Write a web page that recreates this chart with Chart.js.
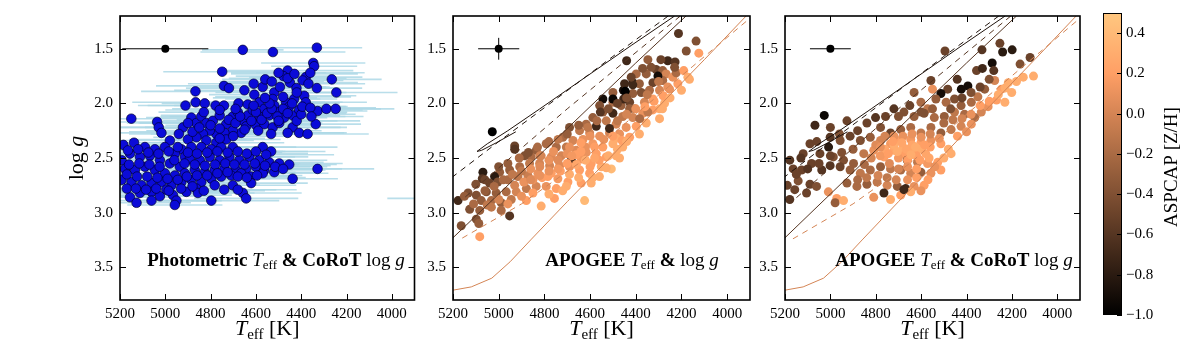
<!DOCTYPE html>
<html>
<head>
<meta charset="utf-8">
<script src="https://cdn.jsdelivr.net/npm/chart.js@4.4.1/dist/chart.umd.min.js"></script>
<style>
  html, body { margin: 0; padding: 0; background: #fff; }
  #wrap { position: relative; width: 1200px; height: 351px; overflow: hidden; }
  canvas { position: absolute; top: 0; }
</style>
</head>
<body>
<div id="wrap">
  <canvas id="p1" width="420" height="351" style="left:0"></canvas>
  <canvas id="p2" width="340" height="351" style="left:420px"></canvas>
  <canvas id="p3" width="330" height="351" style="left:760px"></canvas>
  <canvas id="cb" width="110" height="351" style="left:1090px"></canvas>
</div>
<script>
// axis ranges and ticks
const teffRange = [3900, 5200]
const loggRange = [1.2, 3.8]
const zRange = [-1.0, 0.5]
const teffTicks = [5200, 5000, 4800, 4600, 4400, 4200, 4000]
const loggTicks = [1.5, 2.0, 2.5, 3.0, 3.5]
const zTicks = [-1.0, -0.8, -0.6, -0.4, -0.2, 0.0, 0.2, 0.4]

// typical error bars (Teff K, logg dex) at (5000, 1.5)
const refPoint = [5000, 1.5]
const refErrPhot = [190, 0]
const refErrApogee = [90, 0.1]
const refErrCorot = [90, 0]

// photometric Teff & CoRoT logg: [Teff, logg, Teff error]
const photStars = [
  [4658,1.51,180],[4525,1.53,320],[4331,1.49,200],[4347,1.63,230],[4343,1.66,190],[4749,1.71,260],
  [4460,1.70,290],[4479,1.75,210],[4380,1.76,250],[4394,1.79,180],[4265,1.78,220],[4741,1.84,300],
  [4719,1.86,190],[4867,1.89,240],[4651,1.88,310],[4607,1.92,200],[4570,1.85,280],[4559,1.78,190],
  [4519,1.90,260],[4494,1.85,220],[4450,1.81,300],[4421,1.86,180],[4368,1.82,250],[4331,1.86,200],
  [4245,1.90,270],[4387,1.93,230],[4911,2.02,210],[4866,1.99,280],[4826,2.00,190],[4778,2.02,300],
  [4741,2.02,220],[4677,2.00,260],[4636,2.01,180],[4585,1.99,290],[4526,1.96,210],[4467,1.99,250],
  [4431,1.96,190],[4380,1.99,270],[4328,2.07,220],[4289,2.05,300],[4248,2.05,200],[5150,2.14,240],
  [5036,2.17,190],[5029,2.22,260],[5017,2.27,210],[4922,2.22,280],[4885,2.13,200],[4863,2.18,250],
  [4841,2.12,180],[4819,2.18,300],[4790,2.16,220],[4760,2.11,260],[4731,2.19,190],[4702,2.12,280],
  [4680,2.08,210],[4658,2.16,250],[4636,2.11,200],[4614,2.06,290],[4585,2.12,230],[4563,2.05,180],
  [4541,2.11,270],[4519,2.02,220],[4497,2.08,300],[4475,2.13,190],[4453,2.03,250],[4438,2.11,210],
  [4409,2.06,280],[4643,2.21,200],[4599,2.20,260],[4563,2.19,220],[4526,2.22,300],[4497,2.18,190],
  [4438,2.22,240],[4409,2.27,210],[4372,2.28,270],[4336,2.19,200],[4460,2.27,250],[4533,2.28,180],
  [4665,2.27,290],[4702,2.25,220],[4739,2.27,260],[4775,2.28,200],[4804,2.25,280],[4834,2.28,230],
  [4863,2.31,190],[4900,2.33,260],[4819,2.34,210],[4775,2.36,300],[4731,2.33,240],[4753,2.40,200],
  [4797,2.42,270],[4841,2.40,220],[4885,2.40,250],[4929,2.42,190],[4980,2.34,280],[5185,2.38,230],
  [5138,2.36,260],[5090,2.40,200],[5046,2.42,290],[5002,2.40,210],[4958,2.46,250],[4914,2.49,190],
  [4570,2.40,330],[4533,2.44,240],[4702,2.40,280],[5156,2.46,220],[5112,2.49,260],[5068,2.48,200],
  [5024,2.52,300],[4980,2.55,230],[4936,2.58,190],[4892,2.51,270],[4848,2.52,210],[4804,2.49,250],
  [4760,2.52,200],[4717,2.49,290],[4673,2.52,220],[4629,2.49,260],[4585,2.52,300],[4541,2.54,240],
  [4497,2.55,280],[4453,2.56,210],[4328,2.60,250],[4438,2.69,200],[5193,2.52,260],[5178,2.60,220],
  [5134,2.61,300],[5090,2.58,190],[5046,2.61,250],[5002,2.64,210],[4958,2.66,280],[4914,2.64,230],
  [4870,2.61,260],[4826,2.63,200],[4782,2.61,290],[4739,2.60,220],[4688,2.61,250],[4643,2.60,310],
  [4600,2.58,240],[4563,2.61,270],[4519,2.63,200],[5193,2.70,230],[5149,2.72,260],[5105,2.75,200],
  [5061,2.73,280],[5017,2.72,220],[4973,2.75,250],[4929,2.72,190],[4885,2.70,300],[4841,2.72,230],
  [4797,2.69,260],[4753,2.67,210],[4709,2.66,280],[4665,2.64,240],[4621,2.67,200],[4570,2.64,290],
  [4621,2.73,250],[5112,2.82,210],[5061,2.81,270],[5024,2.85,230],[4966,2.84,260],[4951,2.89,200],
  [4907,2.81,280],[4863,2.78,220],[4856,2.82,250],[5156,2.86,190],[5127,2.91,240],[5061,2.89,270],
  [4958,2.93,210],[4797,2.89,300],[4658,2.82,260],[4643,2.87,230],[4782,2.75,200],[4702,2.75,280],
  [4995,2.79,240],[3760,2.87,260],
  [5165,2.43,250],[5120,2.42,210],[5075,2.45,280],[5030,2.46,230],[4985,2.44,190],[4945,2.40,300],
  [4900,2.45,220],[4860,2.46,260],[4815,2.45,200],[4770,2.44,290],[4725,2.45,240],[4680,2.44,210],
  [4640,2.46,270],[4600,2.44,230],[4555,2.47,300],[5160,2.56,200],[5115,2.55,260],[5070,2.56,220],
  [5025,2.58,280],[4960,2.52,240],[4915,2.55,190],[4870,2.56,300],[4825,2.57,230],[4780,2.56,260],
  [4735,2.55,210],[4695,2.56,280],[4650,2.56,240],[4605,2.55,200],[4560,2.57,290],[4515,2.58,230],
  [4480,2.60,260],[5170,2.65,210],[5125,2.67,280],[5080,2.67,230],[5035,2.68,260],[4990,2.69,200],
  [4945,2.70,290],[4905,2.67,240],[4860,2.66,210],[4815,2.66,270],[4770,2.64,230],[4725,2.63,300],
  [4680,2.67,220],[4640,2.68,260],[4595,2.66,200],[5170,2.78,280],[5130,2.78,230],[5085,2.79,260],
  [5040,2.78,210],[4985,2.80,290],[4930,2.78,240],[4880,2.76,200],[4830,2.80,270],[4740,2.79,230],
  [4680,2.79,260],[4940,2.28,220],[4880,2.26,280],[4850,2.22,240],[4800,2.20,200],[4760,2.23,290],
  [4720,2.15,230],[4690,2.18,260],[4670,2.12,210],[4620,2.16,280],[4600,2.08,240],[4575,2.15,200],
  [4550,2.09,270],[4530,2.05,230],[4505,2.12,300],[4480,2.05,220],[4460,2.09,260],[4440,2.00,210],
  [4420,2.16,280],[4400,2.10,240],[4395,2.03,200],[4360,2.04,290],[4355,2.12,230],[4540,2.00,260],
  [4610,2.02,210],[4690,2.05,280],[4760,2.06,240],[4830,2.08,200],[4900,2.18,270],[4560,1.95,230],
  [4480,1.94,300],[4420,1.90,220],[4500,2.16,260],[4650,2.24,210],[4590,2.25,280],[4700,2.30,240],
  [4760,2.32,200],[4610,1.82,290],[4530,1.80,230],[4460,1.77,260],[4500,1.72,210],[4430,1.73,280],
  [4360,1.72,240]
]

// APOGEE Teff & logg: [Teff, logg, [Z/H]]
const apogeeStars = [
  [4213,1.36,-0.6],[4136,1.43,-0.4],[4179,1.52,-0.4],[4124,1.54,0.2],[4260,1.61,-0.7],[4228,1.62,-0.6],
  [4440,1.61,-0.7],[4347,1.60,-0.3],[4311,1.69,-0.5],[4282,1.70,-0.3],[4333,1.67,-0.4],[4354,1.73,-0.3],
  [4267,1.73,0.0],[4238,1.76,0.1],[4223,1.72,-0.2],[4172,1.76,0.3],[4216,1.82,0.2],[4398,1.73,-0.2],
  [4413,1.81,-0.8],[4454,1.88,-0.9],[4449,1.82,-0.7],[4384,1.82,-0.3],[4325,1.81,-0.5],[4282,1.79,-0.2],
  [4252,1.87,0.1],[4296,1.88,0.0],[4340,1.88,-0.2],[4376,1.90,-0.4],[4413,1.91,-0.3],[4500,1.90,-0.3],
  [4544,1.96,-0.9],[4558,2.02,-0.4],[4500,1.99,-0.2],[4464,2.02,-0.3],[4427,1.99,-0.5],[4405,2.05,-0.1],
  [4362,1.99,0.0],[4325,1.96,0.2],[4296,2.05,0.3],[4274,2.00,0.3],[4325,2.06,0.2],[4369,2.09,0.1],
  [4413,2.13,0.0],[4457,2.12,-0.1],[4500,2.09,-0.7],[4544,2.08,-0.3],[4588,2.13,-0.3],[4617,2.19,-0.2],
  [4573,2.21,-0.7],[4529,2.16,-0.1],[4486,2.19,0.0],[4442,2.22,0.1],[4398,2.21,0.2],[4354,2.18,0.3],
  [4384,2.28,0.3],[4427,2.31,0.2],[4471,2.28,0.1],[4515,2.27,0.0],[4558,2.30,0.1],[4602,2.27,0.0],
  [4646,2.25,-0.1],[4690,2.22,-0.4],[4719,2.31,-0.2],[4675,2.34,0.0],[4631,2.33,0.1],[4588,2.37,0.15],
  [4544,2.40,0.2],[4500,2.37,0.3],[4457,2.40,0.3],[4486,2.48,0.3],[4529,2.49,0.2],[4573,2.46,0.2],
  [4617,2.45,0.1],[4661,2.43,0.05],[4704,2.40,-0.1],[4748,2.40,-0.2],[4792,2.37,-0.2],[4836,2.43,-0.3],
  [4858,2.49,-0.2],[4814,2.48,0.0],[4770,2.49,0.05],[4726,2.48,0.0],[4682,2.52,-0.7],[4639,2.51,0.15],
  [4595,2.55,0.2],[4551,2.58,0.3],[4507,2.60,0.4],[4559,2.67,0.3],[4602,2.64,0.2],[4646,2.61,0.2],
  [4690,2.58,0.1],[4733,2.57,0.05],[4777,2.57,0.0],[4821,2.55,0.0],[4865,2.55,-0.1],[4908,2.58,-0.2],
  [4952,2.61,-0.3],[4996,2.63,-0.3],[4930,2.39,-0.5],[4887,2.48,-0.4],[5069,2.63,-0.8],[5072,2.69,-0.6],
  [5018,2.67,-0.8],[5040,2.73,-0.5],[5004,2.72,-0.4],[4960,2.70,-0.2],[4916,2.67,-0.1],[4872,2.66,-0.05],
  [4828,2.64,0.1],[4785,2.67,0.2],[4741,2.69,0.15],[4697,2.72,0.2],[4639,2.73,0.2],[4595,2.73,0.3],
  [4704,2.76,0.3],[4748,2.78,0.2],[4792,2.76,0.1],[4836,2.76,0.0],[4879,2.78,-0.1],[4923,2.81,0.0],
  [4967,2.81,-0.2],[5011,2.82,-0.3],[5054,2.81,-0.4],[5098,2.84,-0.4],[5134,2.82,-0.4],[5178,2.89,-0.7],
  [5076,2.89,-0.3],[5032,2.89,-0.2],[4989,2.91,-0.3],[4945,2.88,-0.1],[4879,2.89,0.2],[4814,2.94,0.3],
  [4756,2.87,0.2],[4624,2.89,0.4],[5127,2.97,-0.4],[5083,2.98,-0.3],[5032,2.95,-0.1],[4989,2.98,-0.2],
  [4952,3.03,-0.6],[5164,3.12,-0.4],[5098,3.06,-0.4],[5087,3.10,-0.3],[5083,3.22,0.2],[5028,2.26,-1.0],
  [4930,2.42,-0.6],[4230,1.67,-0.4],[4165,1.78,0.3],[4413,1.83,-0.7],[4446,1.89,-1.0],[4500,1.96,-0.95],
  [4453,1.96,-0.7],[4303,1.75,-0.9],[4296,2.14,0.3],[4283,2.05,0.3],[4555,2.08,-0.6],[4515,2.23,-0.7],
  [4427,2.05,-0.3],[4383,2.14,-0.2],[4347,2.08,-0.1],[4485,2.32,0.3],[4471,2.50,0.3],[4529,2.59,0.3],
  [4588,2.68,0.3],
  [5150,2.85,-0.3],[5110,2.92,-0.2],[5060,2.80,-0.3],[5020,2.76,-0.2],[4980,2.70,-0.2],[4940,2.65,-0.1],
  [4900,2.62,-0.1],[4860,2.60,0.1],[4820,2.58,0.05],[4780,2.52,0.1],[4740,2.52,0.05],[4700,2.46,0.1],
  [4660,2.47,0.2],[4620,2.40,0.1],[4580,2.40,0.2],[4540,2.33,0.1],[4500,2.30,0.2],[4460,2.34,0.2],
  [5100,2.74,-0.4],[5060,2.70,-0.5],[5000,2.58,-0.4],[4960,2.55,-0.3],[4910,2.50,-0.2],[4870,2.45,-0.4],
  [4830,2.40,-0.2],[4780,2.35,-0.2],[4740,2.33,-0.1],[4700,2.28,-0.3],[4650,2.20,-0.3],[4610,2.22,-0.1],
  [4570,2.16,-0.2],[4930,2.75,0.0],[4890,2.72,0.1],[4850,2.70,0.1],[4810,2.68,0.2],[4770,2.64,0.2],
  [4730,2.62,0.2],[4690,2.65,0.3],[4650,2.68,0.3],[4600,2.58,0.2],[4560,2.52,0.2],[4520,2.48,0.3],
  [4480,2.42,0.3],[4440,2.35,0.3],[5050,2.93,-0.1],[5000,2.88,0.0],[4960,2.92,0.1],[4900,2.85,0.1],
  [4850,2.82,0.2],[4780,2.83,0.3],[4720,2.80,0.3],[4480,2.16,-0.1],[4440,2.10,0.0],[4400,2.05,0.1],
  [4360,2.03,0.2],[4320,1.98,0.2],[4280,1.93,0.2],[4250,1.95,0.3],[4200,1.88,0.3],[4190,1.70,0.2],
  [4260,1.85,0.1],[4300,1.80,-0.1],[4350,1.92,-0.1],[4440,1.95,-0.4],[4480,2.00,-0.5],[4520,2.05,-0.4],
  [4420,1.76,-0.5],[4370,1.68,-0.4],[4290,1.60,-0.5],[4600,2.30,0.1],[4640,2.36,0.2],[4690,2.40,0.1],
  [4760,2.44,0.1],[4820,2.48,0.0],
  [4700,2.55,0.2],[4660,2.56,0.25],[4620,2.52,0.3],[4580,2.50,0.25],[4740,2.60,0.15],[4780,2.62,0.1],
  [4820,2.66,0.1],[4860,2.70,0.05],[4640,2.44,0.2],[4680,2.48,0.15]
]

// APOGEE Teff & CoRoT logg: [Teff, logg, [Z/H]]
const mixedStars = [
  [4253,1.45,-0.5],[4199,1.51,-0.8],[4241,1.53,-0.8],[4332,1.51,-0.6],[4495,1.52,-0.5],[4287,1.63,-0.9],
  [4164,1.64,-0.4],[4120,1.58,-0.5],[4150,1.76,0.3],[4105,1.75,0.3],[4356,1.70,-0.5],[4441,1.78,-0.6],
  [4394,1.84,-0.9],[4423,1.87,-0.9],[4483,1.87,-0.5],[4513,1.91,-0.9],[4550,1.87,0.1],[4557,1.79,-0.5],
  [4631,1.90,-0.3],[4601,1.99,-0.2],[4572,2.05,-0.1],[4535,1.96,-0.3],[4490,1.99,-0.2],[4453,1.96,-0.4],
  [4424,2.02,-0.3],[4379,1.99,-0.2],[4350,1.94,-0.1],[4320,1.87,-0.3],[4276,1.79,0.0],[4246,1.87,0.2],
  [4216,1.81,0.3],[4201,1.90,0.3],[4231,1.99,0.3],[4268,1.97,0.2],[4305,2.03,0.1],[4335,2.08,0.0],
  [4364,2.13,-0.2],[4409,2.10,-0.2],[4453,2.08,-0.1],[4498,2.12,-0.3],[4542,2.13,-0.2],[4587,2.09,-0.4],
  [4631,2.12,-0.3],[4676,2.08,-0.4],[4720,2.05,-0.6],[4757,2.12,-0.5],[4801,2.13,-0.6],[4839,2.18,-0.5],
  [4779,2.22,-0.4],[4735,2.27,-0.5],[4690,2.24,-0.3],[4646,2.22,-0.2],[4601,2.27,-0.1],[4557,2.22,-0.2],
  [4513,2.27,-0.3],[4468,2.24,-0.1],[4424,2.21,0.0],[4379,2.19,0.1],[4468,2.46,0.3],[4513,2.37,0.2],
  [4557,2.34,0.1],[4601,2.36,0.2],[4646,2.33,0.15],[4690,2.34,0.2],[4735,2.37,0.15],[4779,2.34,0.0],
  [4824,2.31,-0.3],[4868,2.34,-0.4],[4913,2.30,-0.5],[4957,2.34,-0.4],[5001,2.31,-0.6],[5008,2.40,-0.8],
  [5046,2.46,-0.5],[4987,2.49,-0.4],[4942,2.52,-0.4],[4898,2.55,-0.3],[4853,2.46,-0.1],[4809,2.43,0.1],
  [4764,2.49,0.2],[4720,2.43,0.25],[4676,2.46,0.2],[4631,2.43,0.25],[4661,2.52,-0.8],[4616,2.54,-0.1],
  [4572,2.55,0.15],[4527,2.54,0.2],[4513,2.61,0.2],[4557,2.64,0.1],[4601,2.63,-0.3],[4646,2.64,0.0],
  [4690,2.61,-0.2],[4735,2.60,-0.1],[4779,2.58,-0.3],[4824,2.61,-0.2],[4868,2.64,-0.1],[4913,2.61,-0.3],
  [4957,2.58,-0.5],[5001,2.57,-0.6],[5038,2.61,-0.6],[5083,2.55,-0.5],[5120,2.46,-0.5],[5127,2.61,-0.5],
  [5164,2.60,-0.5],[5179,2.52,-0.6],[5068,2.20,-0.7],[5027,2.11,-0.95],[4927,2.16,-0.5],[5090,2.37,-0.5],
  [5142,2.71,-0.4],[5090,2.74,-0.5],[5061,2.76,-0.4],[5105,2.82,-0.5],[5157,2.79,-0.5],[5179,2.88,-0.6],
  [5009,2.81,0.1],[4972,2.87,0.2],[4979,2.91,-0.3],[4942,2.89,0.3],[4927,2.73,-0.3],[4883,2.76,-0.2],
  [4839,2.74,-0.3],[4794,2.72,-0.1],[4750,2.75,0.0],[4705,2.76,-0.3],[4668,2.78,-0.7],[4631,2.76,0.1],
  [4587,2.75,0.2],[4809,2.86,0.1],[4764,2.82,-0.7],[4735,2.88,0.3],[4690,2.84,0.2],[4646,2.81,0.3],
  [4601,2.80,0.1],[4676,2.79,-0.7],
  [4760,2.42,0.25],[4720,2.38,0.3],[4680,2.40,0.3],[4640,2.38,0.25],[4600,2.42,0.3],[4700,2.50,0.15],
  [4660,2.52,0.2],[4620,2.48,0.2],[4580,2.46,0.25],[4740,2.55,0.05],[4780,2.48,0.15],[4820,2.50,0.0],
  [4850,2.56,-0.2],[4800,2.38,0.05],[4760,2.30,0.0],[4720,2.30,0.1],[4680,2.30,0.1],[4640,2.28,0.1],
  [4600,2.31,0.1],[4560,2.28,0.0],[4520,2.32,0.1],[4560,2.40,0.2],[4540,2.58,0.1],[4500,2.50,0.3],
  [4480,2.42,0.3],[4440,2.30,0.2],[4400,2.26,0.1],[4900,2.42,-0.3],[4950,2.45,-0.4],[5000,2.48,-0.5],
  [5050,2.55,-0.5],[5100,2.60,-0.6],[5150,2.65,-0.5],[5190,2.75,-0.5],[5130,2.50,-0.6],[5060,2.35,-0.5],
  [5000,2.22,-0.5],[4960,2.28,-0.4],[4880,2.25,-0.5],[4880,2.70,-0.2],[4840,2.68,-0.1],[4790,2.66,0.0],
  [4750,2.68,-0.1],[4710,2.70,0.0],[4660,2.70,0.1],[4620,2.68,0.2],[4570,2.70,0.2],[4500,2.18,-0.2],
  [4460,2.15,-0.1],[4420,2.14,0.0],[4380,2.10,0.1],[4340,2.02,0.2],[4300,1.98,0.2],[4260,1.92,0.3],
  [4230,1.86,0.3],[4180,1.80,0.3],[4550,2.05,-0.3],[4600,2.08,-0.4],[4650,2.02,-0.5],[4700,2.12,-0.4],
  [4470,2.05,-0.4],[4420,1.95,-0.5],[4380,1.90,-0.4],[4340,1.85,-0.5],[4300,1.78,-0.4],[4280,1.70,-0.6],
  [4330,1.68,-0.7],
  [4745,2.46,0.2],[4705,2.44,0.3],[4665,2.42,0.25],[4625,2.40,0.3],[4585,2.38,0.2],[4725,2.35,0.2],
  [4685,2.36,0.25],[4645,2.47,0.3],[4605,2.52,0.2],[4565,2.50,0.25],[4780,2.40,0.1],[4660,2.58,0.1],
  [4620,2.60,0.2],[4700,2.60,0.0]
]

// isochrones: [Teff, logg] vertices, coloured by their [Z/H]
const isoPoorSolid = [[4230,1.20],[4420,1.47],[4620,1.76],[4820,2.05],[4960,2.25],[5050,2.37],[5095,2.44],[5075,2.43],[5010,2.36],[4925,2.26]]
const isoPoorDash = [[4258,1.20],[4500,1.57],[4800,2.04],[5000,2.35],[5200,2.67]]
const isoMidSolid = [[4180,1.20],[4400,1.63],[4600,2.03],[4800,2.43],[5000,2.83],[5200,3.23]]
const isoMidDash = [[4205,1.20],[4450,1.62],[4700,2.05],[4950,2.50],[5170,2.90]]
const isoRichSolid = [[3917,1.20],[4100,1.60],[4300,2.03],[4500,2.47],[4700,2.90],[4860,3.25],[4950,3.45],[5030,3.60],[5120,3.68],[5200,3.71]]
const isoRichDash = [[3917,1.25],[4150,1.66],[4400,2.10],[4650,2.55],[4900,2.92],[5165,3.24]]
const isoZ = { poor: -0.85, mid: -0.6, rich: 0.0 }

const SERIF = "'Liberation Serif', 'DejaVu Serif', serif"
const font = (style, size) => `${style} ${size}px ${SERIF}`

const copper = (z) => {
	const t = Math.max(0, Math.min(1, (z - zRange[0]) / (zRange[1] - zRange[0])))
	return `rgb(${Math.round(255 * Math.min(1, 1.25 * t))},${Math.round(255 * 0.7812 * t)},${Math.round(255 * 0.4975 * t)})`
}

const toXY = (arr) => arr.map((p) => ({ x: p[0], y: p[1] }))

const drawRich = (ctx, parts, x, y, align) => {
	let w = 0
	parts.forEach((p) => { ctx.font = p.f; w += ctx.measureText(p.t).width })
	let cx = align === "center" ? x - w / 2 : align === "right" ? x - w : x
	ctx.textAlign = "left"
	ctx.textBaseline = "alphabetic"
	ctx.fillStyle = "#000"
	parts.forEach((p) => {
		ctx.font = p.f
		ctx.fillText(p.t, cx, y + (p.dy || 0))
		cx += ctx.measureText(p.t).width
	})
}

const teffTitle = [
	{ t: "T", f: font("italic", 22) },
	{ t: "eff", f: font("", 15), dy: 4 },
	{ t: " [K]", f: font("", 22) },
]
const loggTitle = [
	{ t: "log ", f: font("", 22) },
	{ t: "g", f: font("italic", 22) },
]
const B = (t) => ({ t, f: font("bold", 19) })
const teffLbl = [{ t: "T", f: font("italic", 19) }, { t: "eff", f: font("", 13), dy: 3 }]
const loggLbl = [{ t: "log ", f: font("", 19) }, { t: "g", f: font("italic", 19) }]

// plugin: error bars, frame, inward ticks, titles
const deco = (cfg) => ({
	id: "deco",
	beforeDatasetsDraw(chart) {
		const { ctx, chartArea: a, scales: { x, y } } = chart
		ctx.save()
		ctx.beginPath()
		ctx.rect(a.left, a.top, a.width, a.height)
		ctx.clip()
		if (cfg.errStars) {
			ctx.strokeStyle = "rgba(173,216,230,0.85)"
			ctx.lineWidth = 1.6
			cfg.errStars.forEach((s) => {
				const py = y.getPixelForValue(s[1])
				ctx.beginPath()
				ctx.moveTo(x.getPixelForValue(s[0] - s[2]), py)
				ctx.lineTo(x.getPixelForValue(s[0] + s[2]), py)
				ctx.stroke()
			})
		}
		const [rt, rg] = refPoint
		const [et, eg] = cfg.refErr
		ctx.strokeStyle = "#000"
		ctx.lineWidth = 1
		ctx.beginPath()
		ctx.moveTo(x.getPixelForValue(rt - et), y.getPixelForValue(rg))
		ctx.lineTo(x.getPixelForValue(rt + et), y.getPixelForValue(rg))
		if (eg > 0) {
			ctx.moveTo(x.getPixelForValue(rt), y.getPixelForValue(rg - eg))
			ctx.lineTo(x.getPixelForValue(rt), y.getPixelForValue(rg + eg))
		}
		ctx.stroke()
		ctx.restore()
	},
	afterDatasetsDraw(chart) {
		const { ctx, chartArea: a, scales: { x, y } } = chart
		ctx.save()
		ctx.strokeStyle = "#000"
		ctx.lineWidth = 1
		ctx.beginPath()
		teffTicks.forEach((v) => {
			const px = Math.round(x.getPixelForValue(v)) + 0.5
			ctx.moveTo(px, a.bottom); ctx.lineTo(px, a.bottom - 6)
			ctx.moveTo(px, a.top); ctx.lineTo(px, a.top + 6)
		})
		loggTicks.forEach((v) => {
			const py = Math.round(y.getPixelForValue(v)) + 0.5
			ctx.moveTo(a.left, py); ctx.lineTo(a.left + 6, py)
			ctx.moveTo(a.right, py); ctx.lineTo(a.right - 6, py)
		})
		ctx.stroke()
		ctx.lineWidth = 1.6
		ctx.strokeRect(a.left, a.top, a.width, a.height)
		ctx.restore()
	},
	afterDraw(chart) {
		const { ctx, chartArea: a } = chart
		ctx.save()
		drawRich(ctx, teffTitle, (a.left + a.right) / 2, 335, "center")
		if (cfg.yTitle) {
			ctx.save()
			ctx.translate(83, (a.top + a.bottom) / 2)
			ctx.rotate(-Math.PI / 2)
			drawRich(ctx, loggTitle, 0, 0, "center")
			ctx.restore()
		}
		drawRich(ctx, cfg.label, cfg.labelX - cfg.left, 266, "center")
		ctx.restore()
	},
})

const scalesFor = (yw) => ({
	x: {
		type: "linear", min: teffRange[0], max: teffRange[1], reverse: true,
		afterBuildTicks: (s) => { s.ticks = teffTicks.map((v) => ({ value: v })) },
		afterFit: (s) => { s.height = 51 },
		grid: { display: false, drawTicks: false }, border: { display: false },
		ticks: { font: { family: SERIF, size: 15 }, color: "#000", padding: 5, maxRotation: 0, autoSkip: false, callback: (v) => String(v) },
	},
	y: {
		type: "linear", min: loggRange[0], max: loggRange[1], reverse: true,
		afterBuildTicks: (s) => { s.ticks = loggTicks.map((v) => ({ value: v })) },
		afterFit: (s) => { s.width = yw },
		grid: { display: false, drawTicks: false }, border: { display: false },
		ticks: { font: { family: SERIF, size: 15 }, color: "#000", padding: 7, callback: (v) => v.toFixed(1) },
	},
})

const isoSets = () => [
	[isoPoorSolid, isoZ.poor, []], [isoPoorDash, isoZ.poor, [6, 5]],
	[isoMidSolid, isoZ.mid, []], [isoMidDash, isoZ.mid, [6, 5]],
	[isoRichSolid, isoZ.rich, []], [isoRichDash, isoZ.rich, [6, 5]],
].map(([pts, z, dash]) => ({
	data: toXY(pts), showLine: true, borderColor: copper(z), borderWidth: 1, borderDash: dash,
	pointRadius: 0, fill: false, clip: 0,
}))

const refSet = () => ({
	data: toXY([refPoint]), pointRadius: 4, pointBackgroundColor: "#000", pointBorderWidth: 0, clip: 0,
})

const makePanel = (id, left, yw, padRight, datasets, cfg) => {
	new Chart(document.getElementById(id), {
		type: "scatter",
		data: { datasets },
		options: {
			responsive: false, animation: false, events: [],
			layout: { padding: { left: 0, right: padRight, top: 12, bottom: 0 } },
			plugins: { legend: { display: false }, tooltip: { enabled: false } },
			scales: scalesFor(yw),
		},
		plugins: [deco({ ...cfg, left })],
	})
}

// panel 1: photometric Teff & CoRoT logg
makePanel("p1", 0, 120, 4, [
	refSet(),
	{
		data: toXY(photStars), pointRadius: 4.8, pointBackgroundColor: "#0b0bd8",
		pointBorderColor: "#000030", pointBorderWidth: 0.7, clip: 0,
	},
], {
	errStars: photStars, refErr: refErrPhot, yTitle: true, labelX: 276,
	label: [B("Photometric "), ...teffLbl, B(" & CoRoT "), ...loggLbl],
})

// panel 2: APOGEE Teff & logg
makePanel("p2", 420, 33, 10, [
	...isoSets(),
	refSet(),
	{ data: toXY(apogeeStars), pointRadius: 4.5, pointBackgroundColor: apogeeStars.map((s) => copper(s[2])), pointBorderWidth: 0, clip: 0 },
], {
	refErr: refErrApogee, labelX: 632,
	label: [B("APOGEE "), ...teffLbl, B(" & "), ...loggLbl],
})

// panel 3: APOGEE Teff & CoRoT logg
makePanel("p3", 760, 25, 10, [
	...isoSets(),
	refSet(),
	{ data: toXY(mixedStars), pointRadius: 4.5, pointBackgroundColor: mixedStars.map((s) => copper(s[2])), pointBorderWidth: 0, clip: 0 },
], {
	refErr: refErrCorot, labelX: 954,
	label: [B("APOGEE "), ...teffLbl, B(" & CoRoT "), ...loggLbl],
})

// colour bar
const cbDeco = {
	id: "cbDeco",
	afterDraw(chart) {
		const { ctx, chartArea: a, scales: { y } } = chart
		ctx.save()
		ctx.strokeStyle = "#000"
		ctx.lineWidth = 1
		ctx.beginPath()
		zTicks.forEach((v) => {
			const py = Math.round(y.getPixelForValue(v)) + 0.5
			ctx.moveTo(a.right, py); ctx.lineTo(a.right - 5, py)
		})
		ctx.stroke()
		ctx.strokeRect(a.left + 0.5, a.top + 0.5, a.width - 1, a.height - 1)
		ctx.translate(87, 167)
		ctx.rotate(-Math.PI / 2)
		drawRich(ctx, [{ t: "ASPCAP [Z/H]", f: font("", 19) }], 0, 0, "center")
		ctx.restore()
	},
}

new Chart(document.getElementById("cb"), {
	type: "bar",
	data: {
		labels: [""],
		datasets: [{
			data: [[zRange[0], zRange[1]]], borderWidth: 0, barPercentage: 1, categoryPercentage: 1,
			backgroundColor: (c) => {
				const { ctx, chartArea, scales } = c.chart
				if (!chartArea) return "#000"
				const y = scales.y
				const g = ctx.createLinearGradient(0, y.getPixelForValue(zRange[0]), 0, y.getPixelForValue(zRange[1]))
				for (let i = 0; i <= 20; i++) g.addColorStop(i / 20, copper(zRange[0] + (i / 20) * (zRange[1] - zRange[0])))
				return g
			},
		}],
	},
	options: {
		responsive: false, animation: false, events: [],
		layout: { padding: { left: 13, right: 0, top: 10, bottom: 36 } },
		plugins: { legend: { display: false }, tooltip: { enabled: false } },
		scales: {
			x: { display: false },
			y: {
				position: "right", min: zRange[0], max: zRange[1],
				afterBuildTicks: (s) => { s.ticks = zTicks.map((v) => ({ value: v })) },
				afterFit: (s) => { s.width = 78 },
				grid: { display: false, drawTicks: false }, border: { display: false },
				ticks: {
					font: { family: SERIF, size: 15 }, color: "#000", padding: 4,
					callback: (v) => (v < 0 ? "\u2212" : "") + Math.abs(v).toFixed(1),
				},
			},
		},
	},
	plugins: [cbDeco],
})
</script>
</body>
</html>
